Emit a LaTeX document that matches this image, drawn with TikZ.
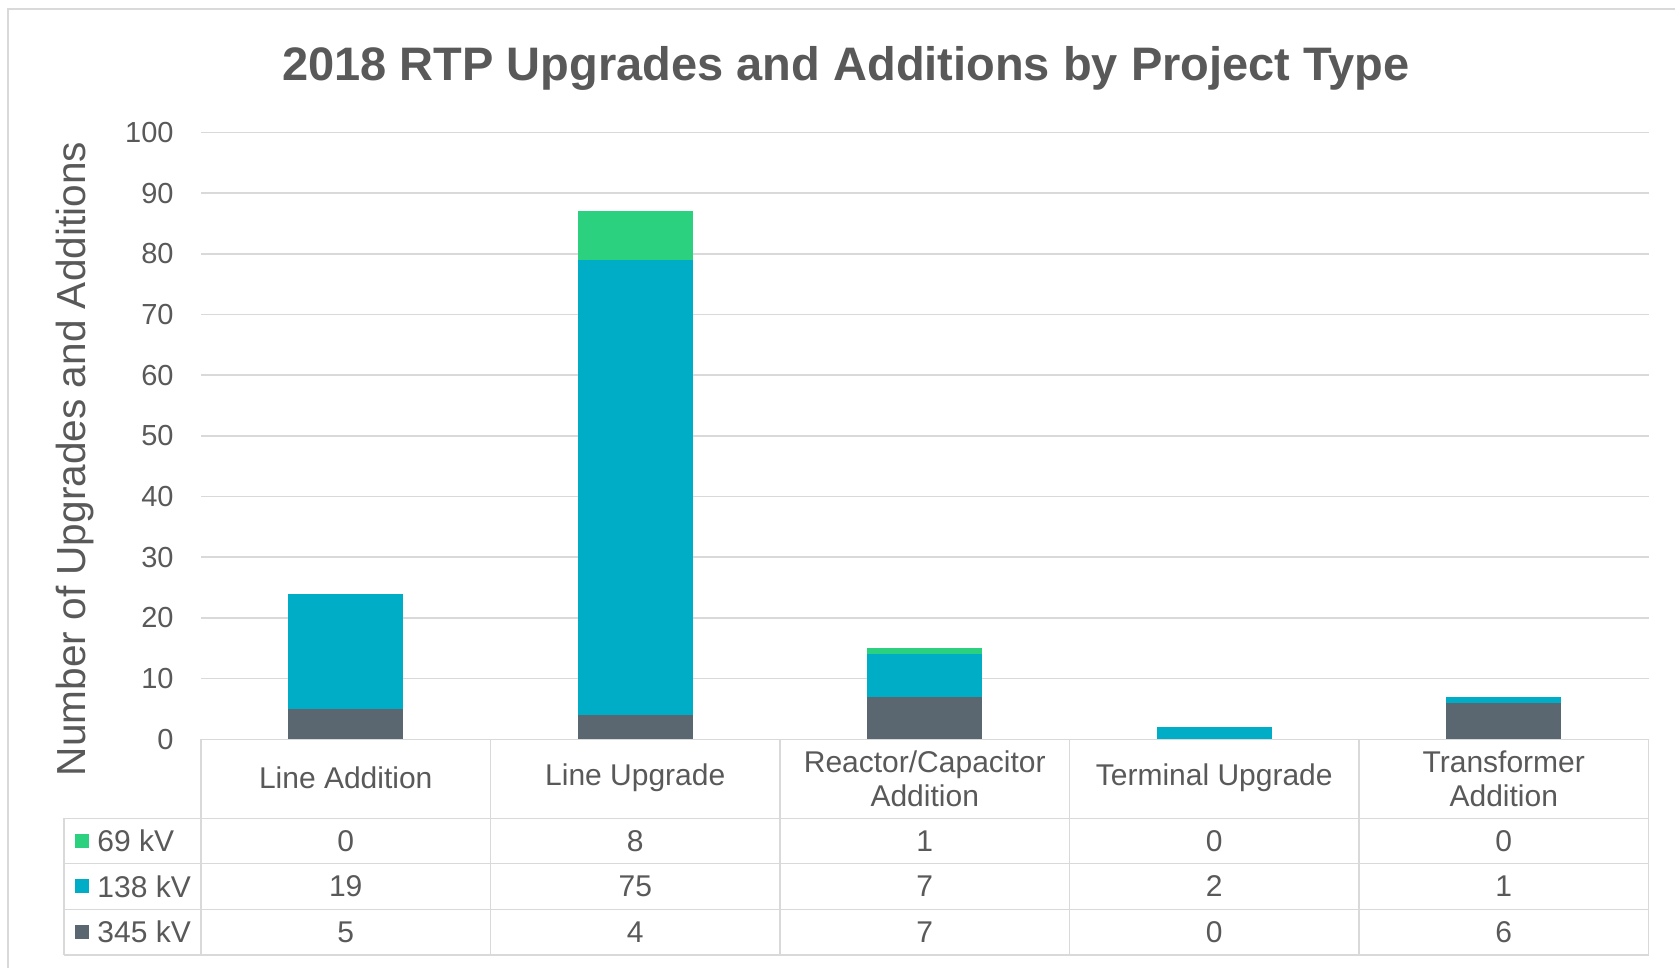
\documentclass[tikz,border=0pt]{standalone}
\usepackage{fontspec}
\setmainfont{Liberation Sans}
\definecolor{txt}{HTML}{595959}
\definecolor{gridc}{HTML}{D9D9D9}
\definecolor{kvA}{HTML}{2BD17E}
\definecolor{kvB}{HTML}{00ADC6}
\definecolor{kvC}{HTML}{5A6670}
\begin{document}
\begin{tikzpicture}[x=0.5pt,y=-0.5pt,
  tick/.style={text=txt, inner sep=0pt, font=\fontsize{14.5}{17}\selectfont},
  cell/.style={text=txt, inner sep=0pt, align=center, font=\fontsize{15}{17}\selectfont},
  gline/.style={draw=gridc, line width=0.8pt},
  tline/.style={draw=gridc, line width=0.8pt}]
\useasboundingbox (0,0) rectangle (1675,968);
\fill[white] (0,0) rectangle (1675,968);
% outer frame
\draw[draw=gridc, line width=1pt] (8,975) -- (8,9) -- (1685,9);
% title
\node[text=txt, inner sep=0pt, anchor=base, font=\fontsize{23.5}{28}\selectfont\bfseries] (title) at (846,80.7) {2018 RTP Upgrades and Additions by Project Type};
% y-axis title
\node[text=txt, inner sep=0pt, rotate=90, font=\fontsize{20.3}{24}\selectfont] (ytitle) at (75,459) {Number of Upgrades and Additions};
% gridlines and tick labels
\foreach \v in {10,20,...,100} {
  \draw[gline] (201,{739.3-\v*6.068}) -- (1648.5,{739.3-\v*6.068});
}
\foreach \v in {0,10,...,100} {
  \node[tick, anchor=east] (t\v) at (174,{739.3-\v*6.068}) {\v};
}
% bars
\foreach \i/\a/\b/\c in {1/5/19/0, 2/4/75/8, 3/7/7/1, 4/0/2/0, 5/6/1/0} {
  \pgfmathsetmacro\cx{201+(\i-0.5)*289.5}
  \pgfmathsetmacro\ya{739.3-\a*6.068}
  \pgfmathsetmacro\yb{739.3-(\a+\b)*6.068}
  \pgfmathsetmacro\yc{739.3-(\a+\b+\c)*6.068}
  \ifnum\a>0 \fill[kvC] ({\cx-57.7},739.3) rectangle ({\cx+57.7},\ya); \fi
  \ifnum\b>0 \fill[kvB] ({\cx-57.7},\ya) rectangle ({\cx+57.7},\yb); \fi
  \ifnum\c>0 \fill[kvA] ({\cx-57.7},\yb) rectangle ({\cx+57.7},\yc); \fi
}
% table lines
\draw[tline] (201,739.3) -- (1648.5,739.3);
\foreach \y in {818.3,863.3,909.3,955} {
  \draw[tline] (64,\y) -- (1648.5,\y);
}
\draw[tline] (64,818.3) -- (64,955);
\foreach \x in {201,490.5,780,1069.5,1359,1648.5} {
  \draw[tline] (\x,739.3) -- (\x,955);
}
% header labels
\node[cell] (h1) at (345.75,778) {Line Addition};
\node[cell] (h2) at (635.25,778) {Line Upgrade};
\node[cell] (h3) at (924.75,779) {Reactor/Capacitor\\Addition};
\node[cell] (h4) at (1214.25,778) {Terminal Upgrade};
\node[cell] (h5) at (1503.75,779) {Transformer\\Addition};
% legend entries
\fill[kvA] (75,833.8) rectangle (89,847.8);
\fill[kvB] (75,879.3) rectangle (89,893.3);
\fill[kvC] (75,925.2) rectangle (89,939.2);
\node[cell, anchor=west] (lA) at (97,840.8) {69 kV};
\node[cell, anchor=west] (lB) at (97,886.3) {138 kV};
\node[cell, anchor=west] (lC) at (97,932.2) {345 kV};
% values
\foreach \i/\a/\b/\c in {1/5/19/0, 2/4/75/8, 3/7/7/1, 4/0/2/0, 5/6/1/0} {
  \pgfmathsetmacro\cx{201+(\i-0.5)*289.5}
  \node[cell] (vA\i) at (\cx,840.8) {\c};
  \node[cell] (vB\i) at (\cx,886.3) {\b};
  \node[cell] (vC\i) at (\cx,932.2) {\a};
}
\end{tikzpicture}
\end{document}
